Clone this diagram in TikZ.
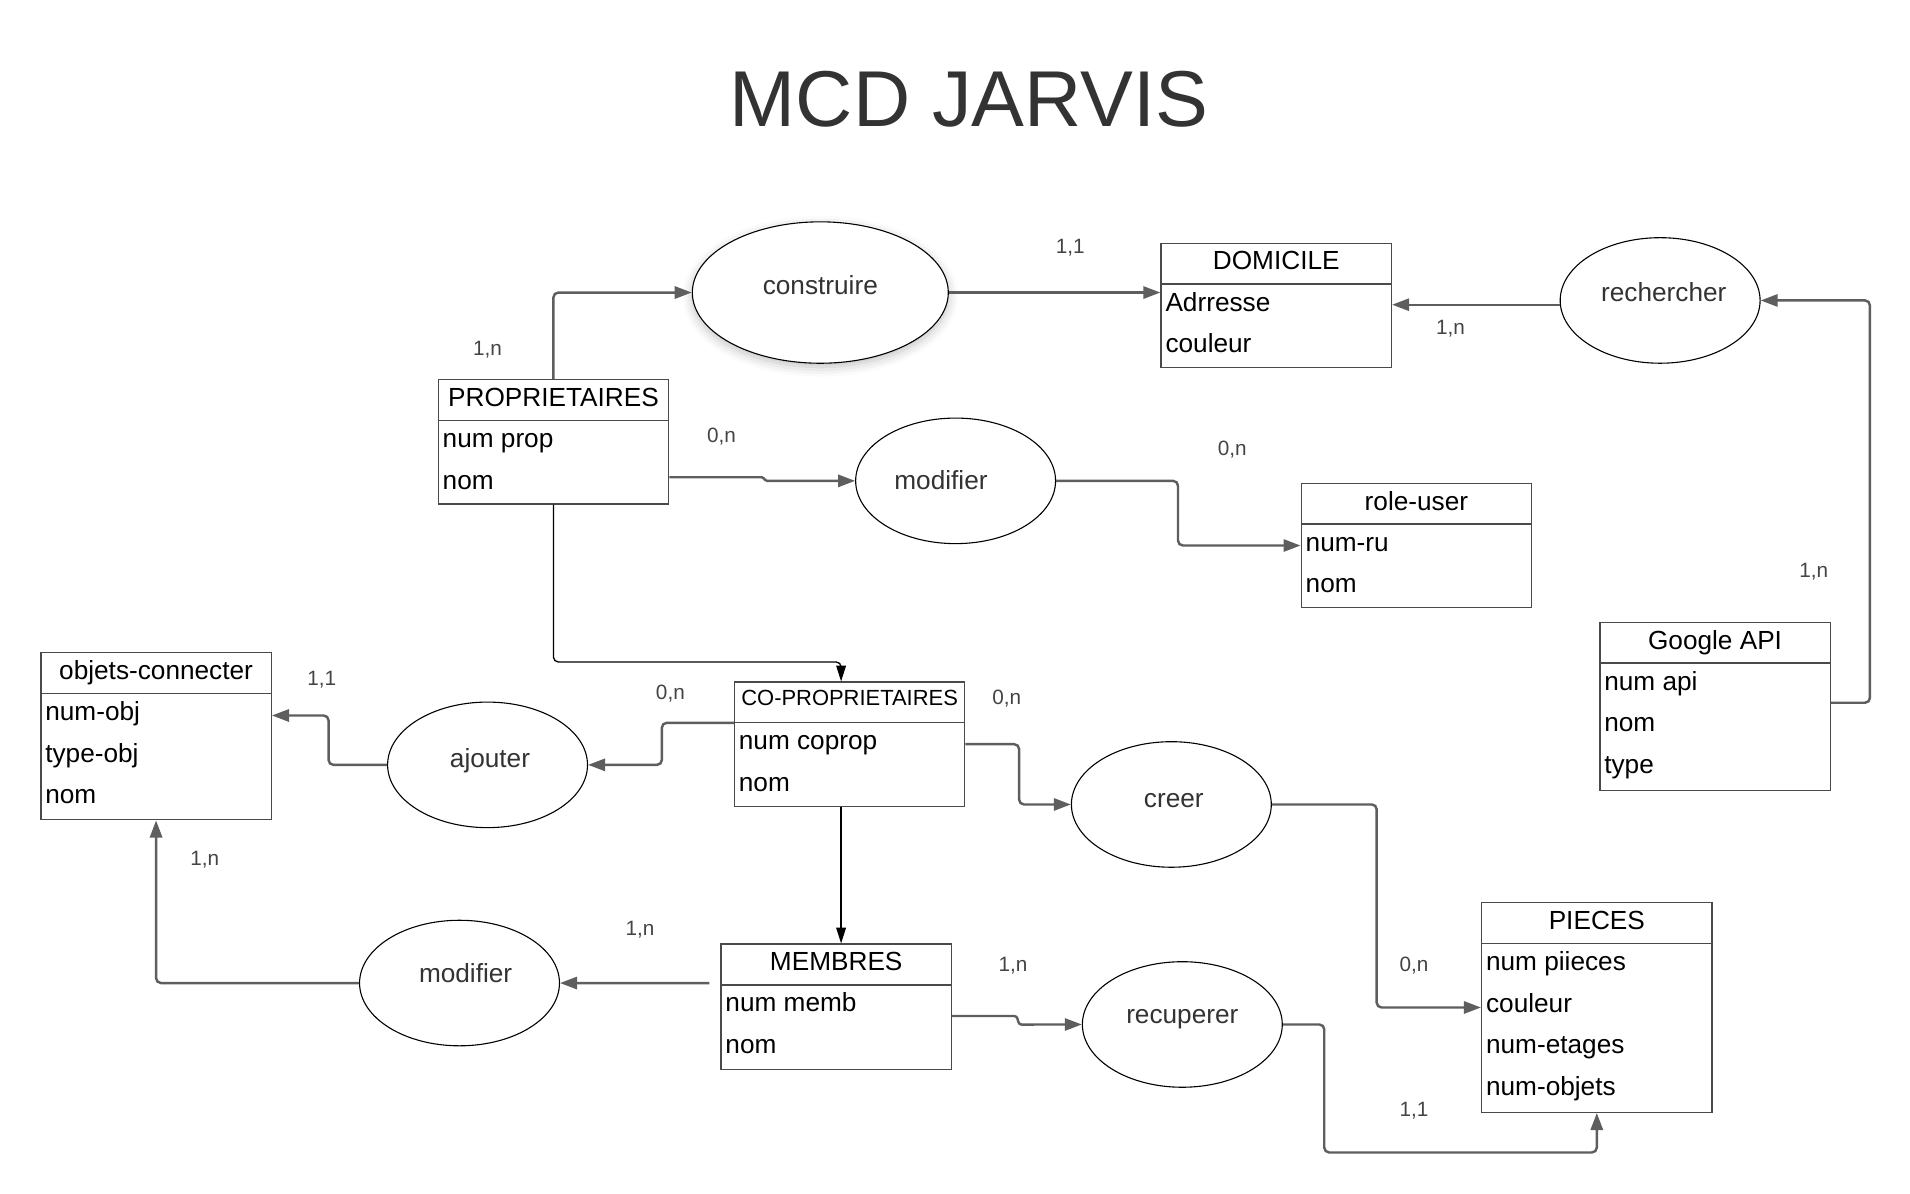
\documentclass[tikz,border=0pt]{standalone}
\usepackage{fontspec}
\setmainfont{Liberation Sans}
\usetikzlibrary{arrows.meta,shapes.geometric,calc,shadows.blur}
\definecolor{lineg}{HTML}{5E5E5E}
\definecolor{boxc}{HTML}{4A4A4A}
\definecolor{cardc}{HTML}{444444}
\definecolor{relt}{HTML}{333333}
\newcommand\mcdent[7][]{% opts, name, x, y, height, title, rows
  \node[ent, minimum height=#5pt] (#2) at (#3,#4) {};
  \draw[draw=boxc, line width=1.1pt] ($(#2.north west)+(0,34)$) -- ($(#2.north east)+(0,34)$);
  \node[ttxt,#1] (#2-t) at ($(#2.north)+(0,22.5)$) {#6};
  \foreach \r [count=\i] in {#7} {\node[etxt] (#2-\i) at ($(#2.north west)+(4,22+34.2*\i)$) {\r};}
}
\begin{document}
\begin{tikzpicture}[x=1pt,y=-1pt,
  ent/.style={draw=boxc, line width=1.1pt, minimum width=189pt, inner sep=0pt, anchor=north west},
  rel/.style={draw=black, line width=0.9pt, ellipse, minimum width=164pt, minimum height=103pt, inner sep=0pt, fill=white},
  conn/.style={draw=lineg, line width=2pt, rounded corners=4pt, -{Triangle[length=14pt,width=10pt]}},
  thinc/.style={draw=black, line width=1.1pt, rounded corners=4pt, -{Triangle[length=13pt,width=8pt]}},
  card/.style={font=\fontsize{17}{17}\selectfont, text=cardc, inner sep=0pt},
  etxt/.style={font=\fontsize{21.5}{22}\selectfont, text=black, inner sep=0pt, anchor=base west},
  ttxt/.style={font=\fontsize{21.5}{22}\selectfont, text=black, inner sep=0pt, anchor=base},
  rtxt/.style={font=\fontsize{21.5}{22}\selectfont, text=relt, inner sep=0pt}]
\useasboundingbox (0,0) rectangle (1567,979);
\node[font=\fontsize{65}{65}\selectfont, text=relt, inner sep=0pt, anchor=base] (title) at (795,104) {MCD JARVIS};

% entities
\mcdent{dom}{952}{199}{102}{DOMICILE}{Adrresse,couleur}
\mcdent{prop}{359}{311}{102}{PROPRIETAIRES}{num prop,nom}
\mcdent{role}{1067}{396}{102}{role-user}{num-ru,nom}
\mcdent{goog}{1312}{510}{138}{Google API}{num api,nom,type}
\mcdent{obj}{33}{535}{137}{objets-connecter}{num-obj,type-obj,nom}
\mcdent[font=\fontsize{18}{18}\selectfont, yshift=3pt]{coprop}{602}{559}{102}{CO-PROPRIETAIRES}{num coprop,nom}
\mcdent{memb}{591}{774}{103}{MEMBRES}{num memb,nom}
\mcdent{piec}{1215}{740}{172}{PIECES}{num piieces,couleur,num-etages,num-objets}

% relations
\node[rel, minimum width=210pt, minimum height=116pt, blur shadow={shadow xshift=0pt, shadow yshift=-3pt, shadow blur radius=8pt, shadow opacity=25}] (constr) at (673,240) {};
\node[rtxt] (constr-t) at (673,234) {construire};
\node[rel] (rech) at (1362,246.5) {};
\node[rtxt] (rech-t) at (1365,240) {rechercher};
\node[rel] (mod1) at (784,394.5) {};
\node[rtxt] (mod1-t) at (772,394) {modifier};
\node[rel] (ajout) at (400,627.5) {};
\node[rtxt] (ajout-t) at (402,624) {ajouter};
\node[rel] (creer) at (961,660) {};
\node[rtxt] (creer-t) at (963,657) {creer};
\node[rel] (mod2) at (377,806.5) {};
\node[rtxt] (mod2-t) at (382,798) {modifier};
\node[rel] (recup) at (970,840.5) {};
\node[rtxt] (recup-t) at (970,836) {recuperer};

% connectors
\draw[conn] (prop.north) |- (constr.west);
\draw[conn] (constr.east) -- (constr.east -| dom.west);
\coordinate (rw) at ($(rech.west)+(0,3.5)$);
\draw[conn] (rw) -- (rw -| dom.east);
\draw[conn] ($(goog.east)+(0,-3)$) -- ++(32,0) |- (rech.east);
\draw[conn, rounded corners=1.2pt] ($(prop.east)+(0,29)$) -- ++(77,0) -- ++(2,3) -- (mod1.west);
\draw[conn] (mod1.east) -- ++(100,0) |- (role.west);
\draw[thinc] (prop.south) -- ++(0,129) -| ($(coprop.north)+(-7,0)$);
\draw[conn] ($(coprop.north west)+(0,34)$) -- ++(-59,0) |- (ajout.east);
\draw[conn] (ajout.west) -- ++(-48,0) |- ($(obj.north east)+(0,52)$);
\draw[conn] (coprop.east) -- ++(44,0) |- (creer.west);
\draw[conn] (creer.east) -- ++(86,0) |- (piec.west);
\coordinate (cpb) at ($(coprop.south)+(-7,0)$);
\draw[thinc] (cpb) -- (cpb |- memb.north);
\draw[conn] ($(memb.west)+(-9,-19.5)$) -- (mod2.east);
\draw[conn] (mod2.west) -| (obj.south);
\draw[conn, rounded corners=2pt] ($(memb.east)+(0,7.5)$) -- ++(53,0) -- ++(2,7) -- (recup.west);
\draw[conn] (recup.east) -- ++(34,0) -- ++(0,105) -| (piec.south);

% cardinalities
\node[card] (c1) at (878,203) {1,1};
\node[card] (c2) at (400,287) {1,n};
\node[card] (c3) at (1190,270) {1,n};
\node[card] (c4) at (592,358) {0,n};
\node[card] (c5) at (1011,369) {0,n};
\node[card] (c6) at (1488,469) {1,n};
\node[card] (c7) at (264,558) {1,1};
\node[card] (c8) at (550,569) {0,n};
\node[card] (c9) at (826,573) {0,n};
\node[card] (c10) at (168,705) {1,n};
\node[card] (c11) at (525,763) {1,n};
\node[card] (c12) at (831,792) {1,n};
\node[card] (c13) at (1160,792) {0,n};
\node[card] (c14) at (1160,911) {1,1};
\end{tikzpicture}
\end{document}
